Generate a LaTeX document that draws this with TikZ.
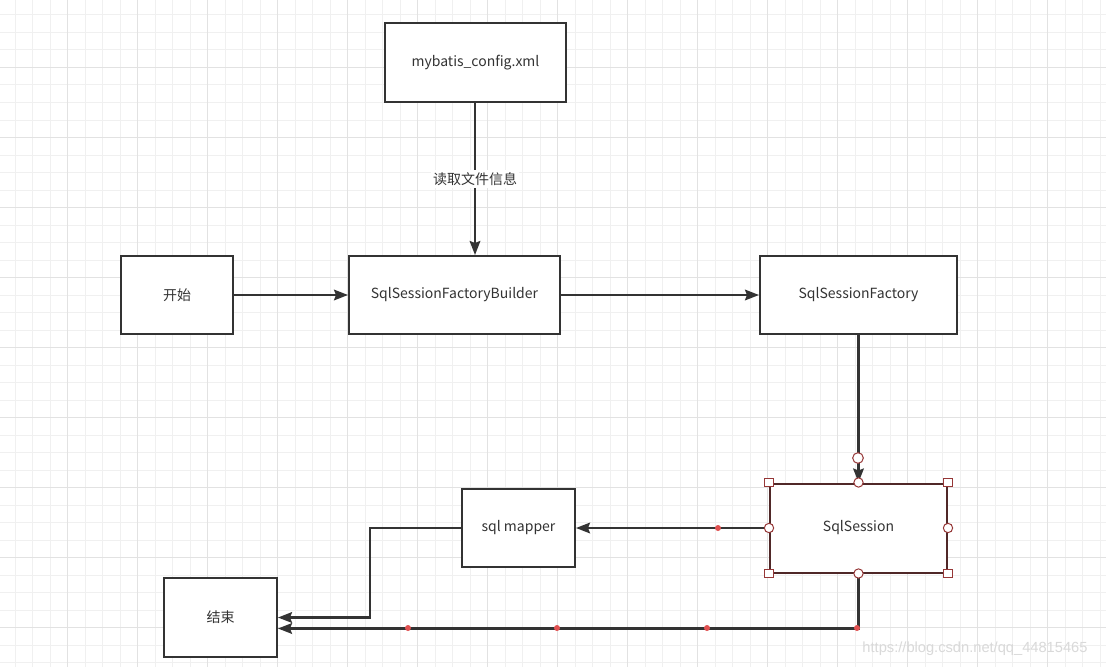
\documentclass[tikz,border=0pt]{standalone}
\usepackage{fontspec}
\setmainfont{Noto Sans CJK SC}
\newfontfamily\markfont{Liberation Sans}
\usetikzlibrary{arrows.meta}
\usepackage{xcolor}
\definecolor{boxline}{RGB}{51,51,51}
\definecolor{gridminor}{RGB}{240,240,240}
\definecolor{gridmajor}{RGB}{226,226,226}
\definecolor{selline}{RGB}{80,40,40}
\definecolor{handle}{RGB}{150,55,55}
\definecolor{waypt}{RGB}{224,80,80}

\begin{document}
\begin{tikzpicture}[x=0.75pt,y=-0.75pt]

\tikzset{block/.style = {shape=rectangle,draw=boxline,line width=1.5pt,fill=white,inner sep=0pt,minimum height=58.5pt,font=\fontsize{10.5pt}{12pt}\selectfont,text=black!80}}
\tikzset{edge/.style = {draw=boxline,line width=1.6pt,-{Stealth[length=10.5pt,width=8pt,inset=1.5pt]}}}
\tikzset{hsquare/.style = {shape=rectangle,draw=handle,fill=white,line width=0.75pt,minimum size=6.5pt,inner sep=0pt}}
\tikzset{hcircle/.style = {shape=circle,draw=handle,fill=white,line width=0.75pt,minimum size=7pt,inner sep=0pt}}

\useasboundingbox (0,0) rectangle (1106,667);
\fill[white] (0,0) rectangle (1106,667);

%grid
\foreach \i in {0,...,62} \draw[gridminor,line width=0.75pt] ({15+17.5*\i},0) -- ({15+17.5*\i},667);
\foreach \i in {0,...,37} \draw[gridminor,line width=0.75pt] (0,{15+17.5*\i}) -- (1106,{15+17.5*\i});
\foreach \i in {0,...,14} \draw[gridmajor,line width=1.2pt] ({67.5+70*\i},0) -- ({67.5+70*\i},667);
\foreach \i in {0,...,8} \draw[gridmajor,line width=1.2pt] (0,{67.5+70*\i}) -- (1106,{67.5+70*\i});

%boxes
\node[block,minimum width=135.75pt,minimum height=59.25pt] (config) at (475.5,62.5) {mybatis\_config.xml};
\node[block,minimum width=84pt] (start) at (177,295) {开始};
\node[block,minimum width=158.25pt] (builder) at (454.5,295) {SqlSessionFactoryBuilder};
\node[block,minimum width=147.75pt] (factory) at (858.5,295) {SqlSessionFactory};
\node[block,draw=selline,minimum width=132.75pt,minimum height=66.75pt] (session) at (858.5,528) {SqlSession};
\node[block,minimum width=84.75pt] (mapper) at (518.5,528) {sql mapper};
\node[block,minimum width=84.75pt,minimum height=59.25pt] (end) at (220.5,617.5) {结束};

%edges
\draw[edge] (config.south -| 475,0) -- node[fill=white,inner sep=1.5pt,font=\fontsize{10.5pt}{12pt}\selectfont,text=black!80] (readlbl) {读取文件信息} (builder.north -| 475,0);
\draw[edge] (start) -- (builder);
\draw[edge] (builder) -- (factory);
\draw[edge] (factory) -- (session);
\draw[edge] (session.west) -- (mapper.east);
\coordinate (bend) at (370,528);
\draw[edge] (mapper.west) -- (bend) |- (end.east);
\draw[edge] (session.south) |- ([shift={(0,11)}]end.east);

%waypoints
\foreach \x/\y in {718/528,408/628,557/628,707/628,857/628}
  \fill[waypt] (\x,\y) circle (3);

%selection handles
\foreach \a in {north west,north east,south west,south east}
  \node[hsquare] at (session.\a) {};
\foreach \a in {north,south,east,west}
  \node[hcircle] at (session.\a) {};
\node[hcircle,minimum size=8pt] at (858,458) {};

\node[text=black!15,font=\markfont\fontsize{11pt}{12pt}\selectfont] (mark) at (975,649) {https://blog.csdn.net/qq\_44815465};
\end{tikzpicture}
\end{document}
